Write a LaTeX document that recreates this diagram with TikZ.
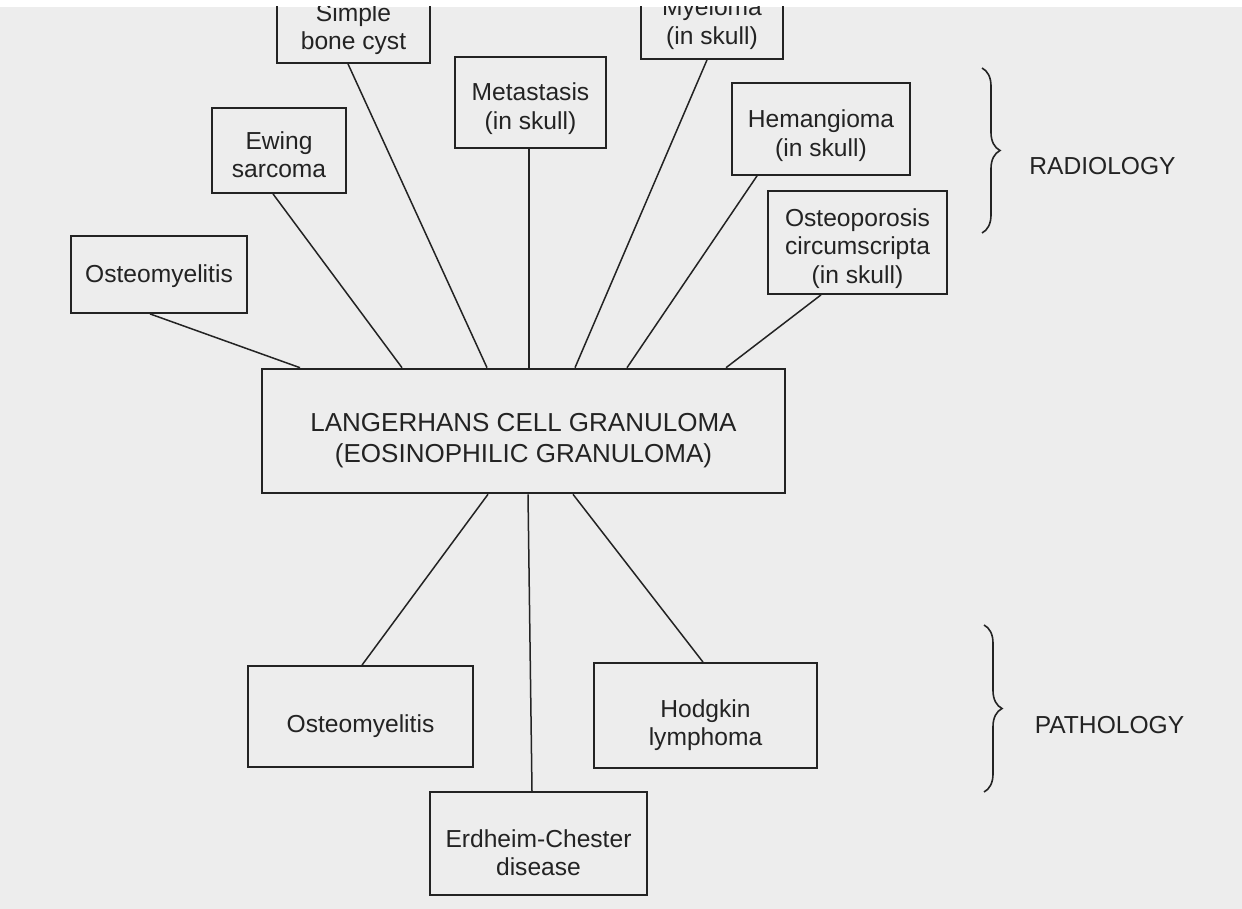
\documentclass[tikz,border=0pt]{standalone}
\usepackage{fontspec}
\setmainfont{Liberation Sans}
\definecolor{scangray}{RGB}{237, 237, 237}
\definecolor{inkgray}{RGB}{35, 35, 35}
\usetikzlibrary{decorations.pathreplacing}

\begin{document}
\begin{tikzpicture}[x=0.5pt, y=-0.5pt,
  dxbox/.style={draw=inkgray, line width=0.9pt, inner sep=0pt},
  dxtext/.style={align=center, inner sep=0pt, text=inkgray, font=\fontsize{12.3}{14.25}\selectfont},
  link/.style={draw=inkgray, line width=0.75pt},
  grouplabel/.style={text=inkgray, font=\fontsize{12.3}{14.25}\selectfont}]
  \useasboundingbox (0,0) rectangle (1242,909);
  \fill[white] (-10,-10) rectangle (1252,919);
  \fill[scangray] (-10,7) rectangle (1252,919);

  \begin{scope}
  \clip (0,7) rectangle (1242,909);

  % Central diagnosis
  \node[dxbox, line width=1.3pt, minimum width=261.5pt, minimum height=62pt,
    label={[dxtext, yshift=-5pt, font=\fontsize{13}{15.5}\selectfont]center:LANGERHANS CELL GRANULOMA\\(EOSINOPHILIC GRANULOMA)}] (granuloma) at (523.5, 431) {};

  % Radiology differentials
  \node[dxbox, minimum width=88pt, minimum height=38.5pt, label={[dxtext, yshift=-1pt]center:Osteomyelitis}] (osteoTop) at (159, 274.5) {};
  \node[dxbox, minimum width=67pt, minimum height=42.5pt, label={[dxtext, yshift=-2pt]center:Ewing\\sarcoma}] (ewing) at (279, 150.5) {};
  \node[dxbox, minimum width=76.5pt, minimum height=36.5pt, label={[dxtext, yshift=-1.2pt]center:Simple\\bone cyst}] (boneCyst) at (353.5, 26.5) {};
  \node[dxbox, minimum width=75.5pt, minimum height=45.5pt, label={[dxtext, yshift=-3pt]center:Metastasis\\(in skull)}] (metastasis) at (530.5, 102.5) {};
  \node[dxbox, minimum width=71pt, minimum height=37.5pt, label={[dxtext, yshift=-1pt]center:Myeloma\\(in skull)}] (myeloma) at (712, 21.5) {};
  \node[dxbox, minimum width=89pt, minimum height=46pt, label={[dxtext, yshift=-3.2pt]center:Hemangioma\\(in skull)}] (hemangioma) at (821, 129) {};
  \node[dxbox, minimum width=89.5pt, minimum height=51.5pt, label={[dxtext, yshift=-3pt]center:Osteoporosis\\circumscripta\\(in skull)}] (osteoporosis) at (857.5, 242.5) {};

  \draw[link] (osteoTop.south -| 150,0) -- (granuloma.north -| 300,0);
  \draw[link] (ewing.south -| 273,0) -- (granuloma.north -| 402,0);
  \draw[link] (boneCyst.south -| 348,0) -- (granuloma.north -| 487,0);
  \draw[link] (metastasis.south -| 529,0) -- (granuloma.north -| 529,0);
  \draw[link] (myeloma.south -| 707,0) -- (granuloma.north -| 575,0);
  \draw[link] (hemangioma.south -| 757,0) -- (granuloma.north -| 627,0);
  \draw[link] (osteoporosis.south -| 821,0) -- (granuloma.north -| 726,0);

  % Pathology differentials
  \node[dxbox, minimum width=112.5pt, minimum height=50.5pt, label={[dxtext, yshift=-5pt]center:Osteomyelitis}] (osteoBot) at (360.5, 716.5) {};
  \node[dxbox, minimum width=111.5pt, minimum height=52.5pt, label={[dxtext, yshift=-4.7pt]center:Hodgkin\\lymphoma}] (hodgkin) at (705.5, 715.5) {};
  \node[dxbox, minimum width=108.5pt, minimum height=51.5pt, label={[dxtext, yshift=-4.5pt]center:Erdheim-Chester\\disease}] (erdheim) at (538.5, 843.5) {};

  \draw[link] (osteoBot.north -| 362,0) -- (granuloma.south -| 488,0);
  \draw[link] (erdheim.north -| 532,0) -- (granuloma.south -| 528,0);
  \draw[link] (hodgkin.north -| 703,0) -- (granuloma.south -| 573,0);

  % Group braces
  \draw[inkgray, line width=0.8pt, decorate, decoration={brace, amplitude=9pt}] (982, 68) -- (982, 233);
  \node[grouplabel] (radLabel) at (1102.5, 166) {RADIOLOGY};
  \draw[inkgray, line width=0.8pt, decorate, decoration={brace, amplitude=9pt}] (984, 625) -- (984, 792);
  \node[grouplabel] (pathLabel) at (1109.5, 725) {PATHOLOGY};
  \end{scope}
\end{tikzpicture}
\end{document}
